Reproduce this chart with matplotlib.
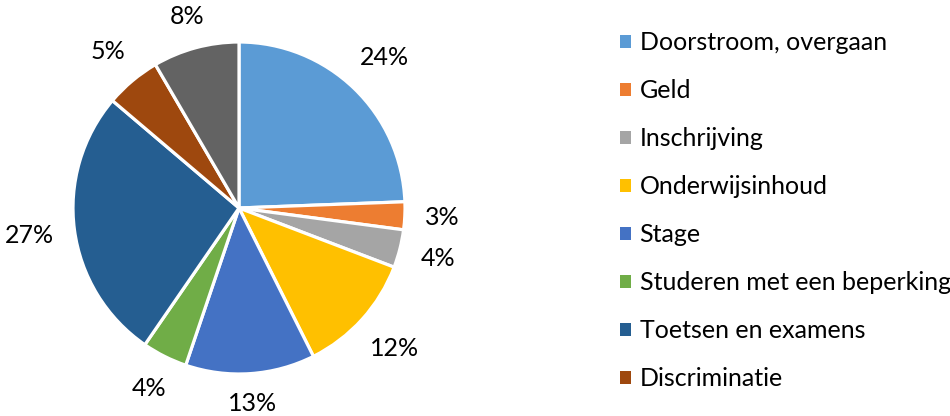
import matplotlib
matplotlib.use("Agg")
import matplotlib.pyplot as plt
import numpy as np
from matplotlib.patches import Patch

categories = ["Doorstroom, overgaan", "Geld", "Inschrijving", "Onderwijsinhoud",
              "Stage", "Studeren met een beperking", "Toetsen en examens",
              "Discriminatie", "Overig"]
values = [24.4, 2.7, 3.7, 11.8, 12.6, 4.4, 26.6, 5.4, 8.4]
pct_labels = ["24%", "3%", "4%", "12%", "13%", "4%", "27%", "5%", "8%"]
legend_labels = categories[:8]
colors = ["#5B9BD5", "#ED7D31", "#A5A5A5", "#FFC000", "#4472C4",
          "#70AD47", "#255E91", "#9E480E", "#636363"]

plt.rcParams['font.family'] = ['Lato', 'DejaVu Sans']

W, H = 950, 416
fig = plt.figure(figsize=(W / 100, H / 100), dpi=100)
cx, cy, r = 239, 208, 166
ax = fig.add_axes([(cx - r) / W, (H - cy - r) / H, 2 * r / W, 2 * r / H])

FS = 18
wedges, texts = ax.pie(
    values, labels=pct_labels, colors=colors, startangle=90, counterclock=False,
    labeldistance=1.2, radius=1,
    wedgeprops=dict(edgecolor="white", linewidth=2.3),
    textprops=dict(fontsize=FS, color="black"))
ax.set_xlim(-1, 1)
ax.set_ylim(-1, 1)
ax.set_aspect("equal")
ax.axis("off")

# Excel-like outside-end labels: nearest point of the label box sits a fixed gap from the rim
fig.canvas.draw()
renderer = fig.canvas.get_renderer()
R = r + 20
for w, t in zip(wedges, texts):
    t.set_ha("center")
    t.set_va("center")
    th = np.deg2rad((w.theta1 + w.theta2) / 2)
    ux, uy = np.cos(th), np.sin(th)
    bb = t.get_window_extent(renderer)
    hw, hh = bb.width / 2, bb.height / 2 * 0.8

    def near(D):
        dx = max(abs(D * ux) - hw, 0)
        dy = max(abs(D * uy) - hh, 0)
        return np.hypot(dx, dy)

    lo, hi = 0.0, 400.0
    for _ in range(60):
        mid = (lo + hi) / 2
        if near(mid) < R:
            lo = mid
        else:
            hi = mid
    D = (lo + hi) / 2 / r
    t.set_position((D * ux, D * uy))

handles = [Patch(facecolor=c, edgecolor="none") for c in colors[:8]]
fig.legend(handles, legend_labels, loc="upper left",
           bbox_to_anchor=(620 / W, 1 - 31 / H), frameon=False,
           fontsize=FS, handlelength=0.42, handleheight=0.42,
           handletextpad=0.36, labelspacing=1.0, borderpad=0, borderaxespad=0)

fig.savefig("out.png", dpi=100)
